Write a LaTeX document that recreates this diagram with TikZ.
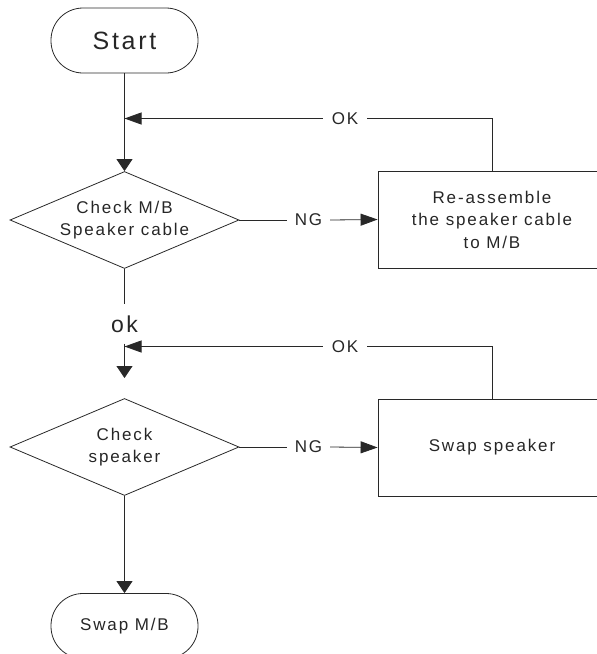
\documentclass[tikz,border=0pt]{standalone}
\usepackage{fontspec}
\setmainfont{Liberation Sans}[LetterSpace=11]
\usetikzlibrary{arrows.meta,shapes.geometric}
\definecolor{flowline}{RGB}{40,40,40}

\begin{document}
\begin{tikzpicture}[x=1pt, y=-1pt,
    every node/.style={text=black!85, align=center},
    term/.style={draw=flowline, line width=0.8pt, rounded corners=32pt, minimum width=147pt, minimum height=65pt, inner sep=0pt},
    decision/.style={draw=flowline, line width=0.8pt, diamond, aspect=2.4, minimum width=229pt, minimum height=97pt, inner sep=0pt, font=\fontsize{17}{22}\selectfont},
    action/.style={draw=flowline, line width=0.8pt, minimum width=228pt, minimum height=97pt, inner sep=0pt, font=\fontsize{17}{22.5}\selectfont},
    lbl/.style={inner sep=0pt, minimum height=12pt, font=\fontsize{17}{18}\selectfont},
    conn/.style={draw=flowline, line width=0.8pt},
    varrow/.style={conn, -{Triangle[length=12pt,width=16pt]}},
    harrow/.style={conn, -{Triangle[length=17pt,width=12pt]}}]
  \useasboundingbox (0,0) rectangle (597,654);

  % Terminals
  \node[term, font=\fontsize{25}{28}\selectfont] (start) at (124.5,40.5) {Start};
  \node[term, font=\fontsize{17}{18}\selectfont] (swapmb) at (124.5,626) {Swap M/B};

  % First check
  \node[decision] (chkcable) at (124.5,220) {Check M/B\\Speaker cable};
  \node[action] (reasm) at (492,219.5) {Re-assemble\\the speaker cable\\to M/B};
  \node[lbl, minimum width=43pt] (ngone) at (308.5,220) {NG};
  \node[lbl, minimum width=44pt] (okone) at (345,118.5) {OK};
  \coordinate (joinone) at (124.5,118.5);

  % ok between the checks
  \node[inner sep=0pt, minimum height=39pt, font=\fontsize{23}{24}\selectfont] (okmid) at (124.5,324) {ok};
  \coordinate (tiptwo) at (124.5,378);

  % Second check
  \node[decision] (chkspk) at (124.5,447) {Check\\speaker};
  \node[action] (swapspk) at (492,447.5) {Swap speaker};
  \node[lbl, minimum width=43pt] (ngtwo) at (308.5,447) {NG};
  \node[lbl, minimum width=44pt] (oktwo) at (345,346.5) {OK};
  \coordinate (jointwo) at (124.5,346.5);

  % Connectors
  \draw[varrow] (start) -- (chkcable);
  \draw[conn] (chkcable.east) -- (ngone.west);
  \draw[harrow] (ngone.east) -- (reasm.west);
  \draw[conn] (reasm.north) |- (okone.east);
  \draw[harrow] (okone.west) -- (joinone);

  \draw[conn] (chkcable.south) -- (okmid.north);
  \draw[varrow] (okmid.south) -- (tiptwo);

  \draw[conn] (chkspk.east) -- (ngtwo.west);
  \draw[harrow] (ngtwo.east) -- (swapspk.west);
  \draw[conn] (swapspk.north) |- (oktwo.east);
  \draw[harrow] (oktwo.west) -- (jointwo);

  \draw[varrow] (chkspk.south) -- (swapmb);
\end{tikzpicture}
\end{document}
